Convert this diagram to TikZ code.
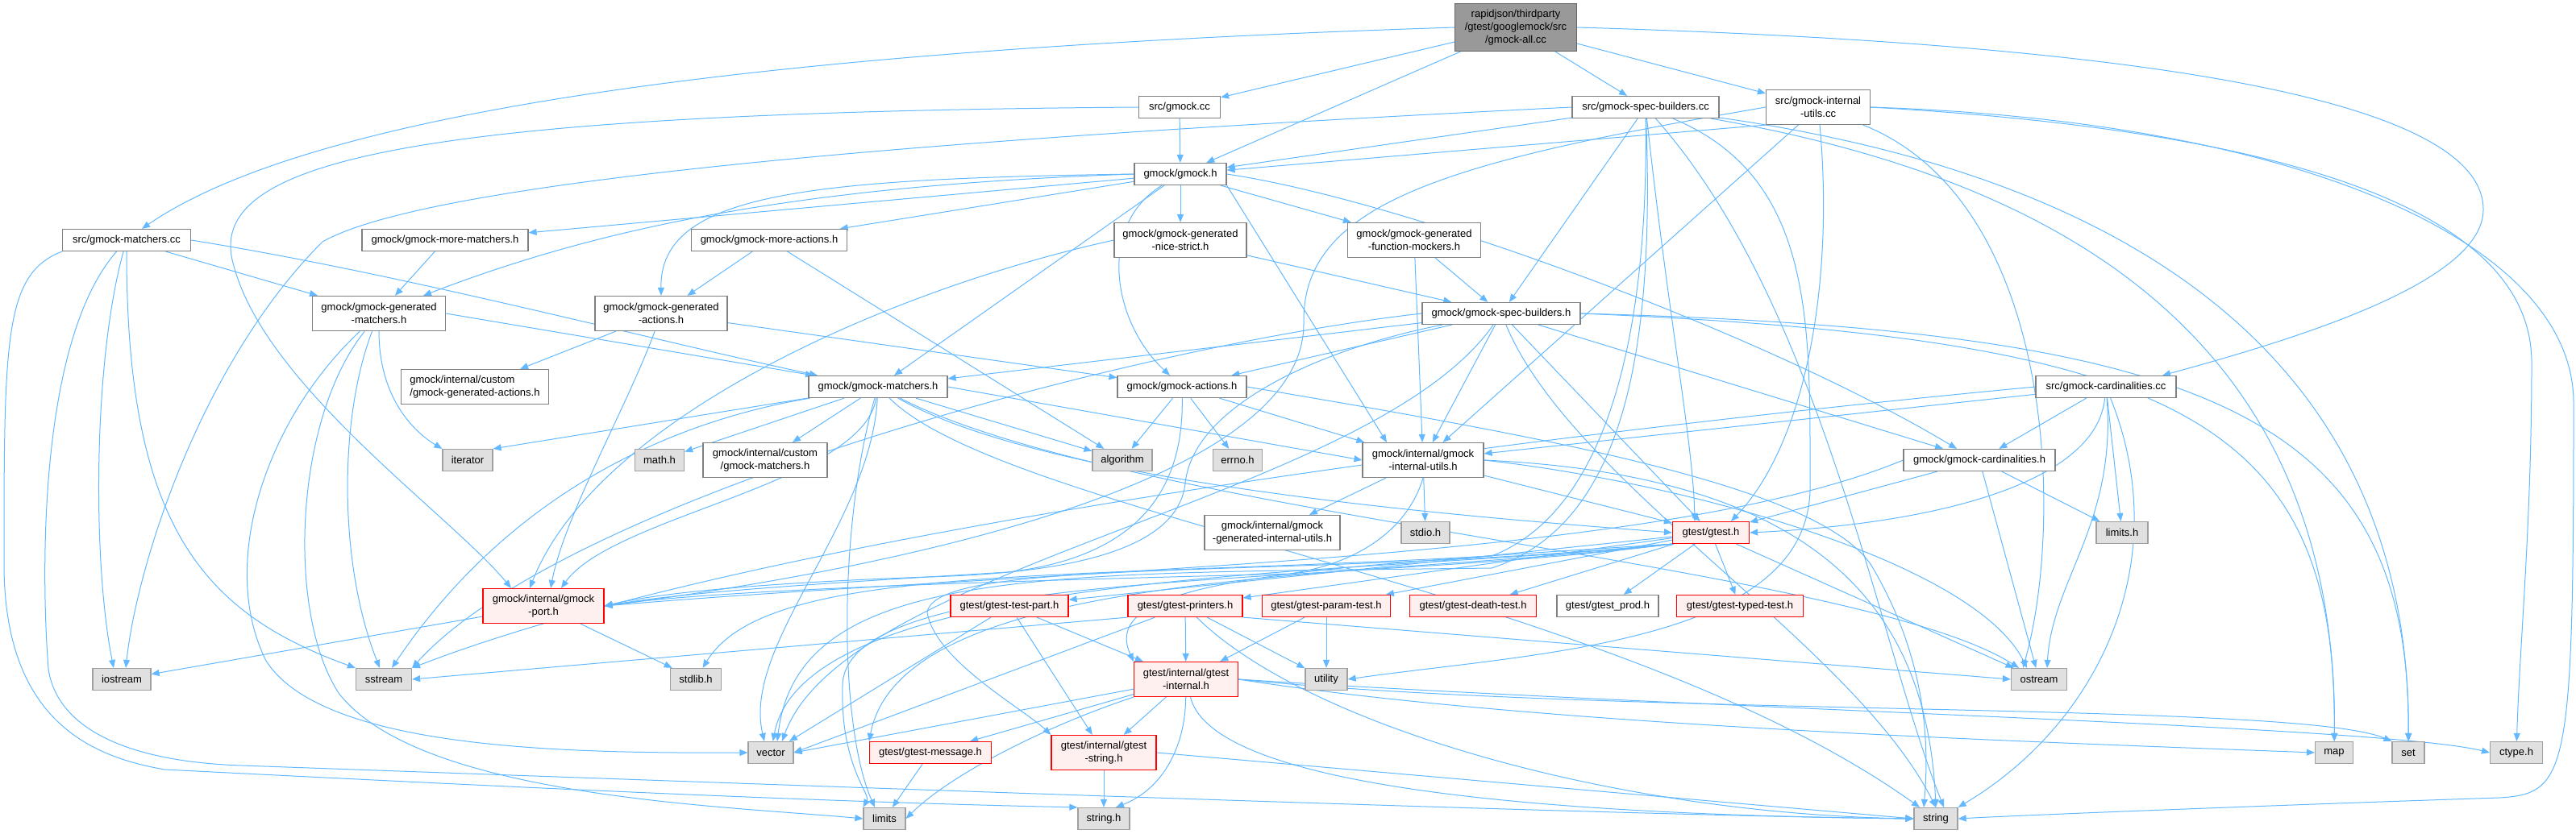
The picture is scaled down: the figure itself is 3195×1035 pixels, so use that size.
\documentclass[tikz,border=0pt]{standalone}
\usepackage{fontspec}
\setmainfont{Liberation Sans}
\usetikzlibrary{arrows.meta}
\pgfdeclarelayer{background}
\pgfsetlayers{background,main}
\definecolor{incblue}{HTML}{63B8FF}
\definecolor{boxgrey}{HTML}{808080}
\definecolor{sysfill}{HTML}{E0E0E0}
\definecolor{sysline}{HTML}{A0A0A0}
\definecolor{truncfill}{HTML}{FFF0F0}

\begin{document}
\begin{tikzpicture}[
    x=1pt, y=-1pt,
    >={Triangle[length=10pt,width=8pt]},
    font=\fontsize{13}{16}\selectfont,
    file/.style={
        rectangle, draw=boxgrey, fill=white,
        line width=1.2pt,
        inner sep=1pt,
        minimum height=27pt,
        align=center
    },
    twoline/.style={
        minimum height=43pt
    },
    rootfile/.style={
        file, draw=black!60, fill=black!40,
        minimum height=59pt
    },
    trunc/.style={
        file, draw=red, fill=truncfill
    },
    sys/.style={
        file, draw=sysline, fill=sysfill
    },
    inc/.style={
        ->, draw=incblue, line width=1pt
    }
]
\useasboundingbox (0,0) rectangle (3195,1035);

\node[rootfile, minimum width=151pt] (root) at (1880,34) {rapidjson/thirdparty\\/gtest/googlemock/src\\/gmock-all.cc};

\node[file, minimum width=159pt] (mcc) at (157,298) {src/gmock-matchers.cc};
\node[file, minimum width=101pt] (gcc) at (1463,133) {src/gmock.cc};
\node[file, minimum width=182pt] (sbcc) at (2041,133) {src/gmock-spec-builders.cc};
\node[file, twoline, minimum width=129pt] (iucc) at (2255,133) {src/gmock-internal\\-utils.cc};
\node[file, minimum width=174pt] (cacc) at (2612,480) {src/gmock-cardinalities.cc};

\node[file, minimum width=114pt] (gmock) at (1464,216) {gmock/gmock.h};
\node[file, minimum width=206pt] (mmat) at (552,298) {gmock/gmock-more-matchers.h};
\node[file, minimum width=193pt] (mact) at (954,298) {gmock/gmock-more-actions.h};
\node[file, twoline, minimum width=164pt] (nice) at (1464,298) {gmock/gmock-generated\\-nice-strict.h};
\node[file, twoline, minimum width=165pt] (fmock) at (1754,298) {gmock/gmock-generated\\-function-mockers.h};

\node[file, twoline, minimum width=165pt] (gmat) at (470,389) {gmock/gmock-generated\\-matchers.h};
\node[file, twoline, minimum width=164pt] (gact) at (820,389) {gmock/gmock-generated\\-actions.h};
\node[file, minimum width=196pt] (sbh) at (1862,389) {gmock/gmock-spec-builders.h};

\node[file, twoline, minimum width=183pt, align=left] (cgact) at (589,480) {gmock/internal/custom\\/gmock-generated-actions.h};
\node[file, minimum width=172pt] (mat) at (1089,480) {gmock/gmock-matchers.h};
\node[file, minimum width=160pt] (act) at (1466,480) {gmock/gmock-actions.h};

\node[sys, minimum width=62pt] (iter) at (580,571) {iterator};
\node[sys, minimum width=61pt] (math) at (818,571) {math.h};
\node[file, twoline, minimum width=154pt] (cmat) at (949,571) {gmock/internal/custom\\/gmock-matchers.h};
\node[sys, minimum width=74pt] (algo) at (1392,571) {algorithm};
\node[sys, minimum width=61pt] (errno) at (1535,571) {errno.h};
\node[file, twoline, minimum width=150pt] (iuh) at (1765,571) {gmock/internal/gmock\\-internal-utils.h};
\node[file, minimum width=188pt] (card) at (2455,571) {gmock/gmock-cardinalities.h};

\node[file, twoline, minimum width=168pt] (giu) at (1578,661) {gmock/internal/gmock\\-generated-internal-utils.h};
\node[sys, minimum width=60pt] (stdio) at (1768,661) {stdio.h};
\node[trunc, minimum width=95pt] (gtest) at (2122,661) {gtest/gtest.h};
\node[sys, minimum width=64pt] (limh) at (2632,661) {limits.h};

\node[trunc, twoline, minimum width=150pt] (port) at (674,752) {gmock/internal/gmock\\-port.h};
\node[trunc, minimum width=146pt] (tpart) at (1252,752) {gtest/gtest-test-part.h};
\node[trunc, minimum width=142pt] (prn) at (1470,752) {gtest/gtest-printers.h};
\node[trunc, minimum width=159pt] (param) at (1645,752) {gtest/gtest-param-test.h};
\node[trunc, minimum width=157pt] (death) at (1827,752) {gtest/gtest-death-test.h};
\node[file, minimum width=126pt] (prod) at (1994,752) {gtest/gtest\_prod.h};
\node[trunc, minimum width=157pt] (typed) at (2158,752) {gtest/gtest-typed-test.h};

\node[sys, minimum width=72pt] (iostr) at (151,843) {iostream};
\node[sys, minimum width=69pt] (sstr) at (476,843) {sstream};
\node[sys, minimum width=63pt] (stdlib) at (863,843) {stdlib.h};
\node[trunc, twoline, minimum width=129pt] (gint) at (1471,843) {gtest/internal/gtest\\-internal.h};
\node[sys, minimum width=52pt] (util) at (1645,843) {utility};
\node[sys, minimum width=69pt] (ostr) at (2529,843) {ostream};

\node[sys, minimum width=56pt] (vec) at (956,934) {vector};
\node[trunc, minimum width=151pt] (msg) at (1154,934) {gtest/gtest-message.h};
\node[trunc, twoline, minimum width=130pt] (gstr) at (1369,934) {gtest/internal/gtest\\-string.h};
\node[sys, minimum width=47pt] (map) at (2895,934) {map};
\node[sys, minimum width=40pt] (set) at (2987,934) {set};
\node[sys, minimum width=65pt] (ctype) at (3121,934) {ctype.h};

\node[sys, minimum width=52pt] (lim) at (1097,1016) {limits};
\node[sys, minimum width=64pt] (strh) at (1369,1016) {string.h};
\node[sys, minimum width=54pt] (str) at (2401,1016) {string};

\begin{pgfonlayer}{background}

\draw[inc] (root.west) .. controls (1000,60) and (400,130) .. ([xshift=19pt]mcc.north);
\draw[inc] (root) -- (gcc);
\draw[inc] (root) -- (gmock);
\draw[inc] (root) -- (sbcc);
\draw[inc] (root) -- (iucc);
\draw[inc] (root.east) .. controls (2500,50) and (3080,100) .. (3080,260) .. controls (3080,350) and (2850,420) .. ([xshift=70pt]cacc.north);

\draw[inc] (gcc) -- (gmock);
\draw[inc] (gcc.west) .. controls (500,140) and (250,200) .. (290,330) .. controls (330,480) and (560,640) .. ([xshift=-40pt]port.north);

\draw[inc] (sbcc) -- (sbh);
\draw[inc] (sbcc) -- (gmock);
\draw[inc] (sbcc.west) .. controls (1300,165) and (550,215) .. (400,300) .. controls (250,450) and (170,700) .. ([xshift=5pt]iostr.north);
\draw[inc] (sbcc) .. controls (2045,450) and (1980,640) .. (1850,690) .. controls (1300,720) and (950,700) .. (stdlib);
\draw[inc] (sbcc) .. controls (2052,420) and (2020,650) .. (1850,705) .. controls (1300,712) and (990,700) .. ([xshift=8pt]vec.north);
\draw[inc] (sbcc) .. controls (2600,230) and (2900,450) .. (map);
\draw[inc] (sbcc) .. controls (2650,220) and (2990,450) .. (set);
\draw[inc] (sbcc) .. controls (2260,380) and (2330,800) .. ([xshift=10pt]str.north);
\draw[inc] (sbcc) .. controls (2070,400) and (2100,550) .. ([xshift=-20pt]gtest.north);
\draw[inc] (sbcc) .. controls (2250,220) and (2245,400) .. (2245,600) .. controls (2250,800) and (1900,810) .. (util.east);

\draw[inc] (iucc) -- (iuh);
\draw[inc] (iucc.south west) -- (gmock);
\draw[inc] (iucc) .. controls (2275,350) and (2240,550) .. ([xshift=25pt]gtest.north);
\draw[inc] (iucc.west) .. controls (1800,200) and (1615,250) .. (1617,400) .. controls (1620,620) and (1000,720) .. (port.east);
\draw[inc] (iucc) .. controls (2550,250) and (2560,650) .. ([xshift=-20pt]ostr.north);
\draw[inc] (iucc.east) .. controls (2800,160) and (3140,250) .. (3140,450) .. controls (3140,650) and (3125,800) .. (ctype);
\draw[inc] (iucc.east) .. controls (2850,150) and (3192,300) .. (3192,500) .. controls (3192,960) and (3185,985) .. (3100,990) .. controls (2800,1000) and (2500,1012) .. (str.east);

\draw[inc] (cacc) -- (card);
\draw[inc] (cacc) -- (limh);
\draw[inc] (cacc) -- (iuh);
\draw[inc] (cacc) .. controls (2600,600) and (2400,650) .. (gtest.east);
\draw[inc] (cacc) .. controls (2625,650) and (2545,720) .. ([xshift=10pt]ostr.north);
\draw[inc] (cacc.west) .. controls (2100,520) and (1000,640) .. (sstr.north east);
\draw[inc] (cacc) .. controls (2700,700) and (2600,900) .. (str.north east);

\draw[inc] (gmock) -- (mmat);
\draw[inc] (gmock) -- (mact);
\draw[inc] (gmock.west) .. controls (1000,230) and (750,280) .. ([xshift=55pt]gmat.north);
\draw[inc] (gmock.west) .. controls (1000,222) and (818,240) .. (gact.north);
\draw[inc] (gmock) -- (nice);
\draw[inc] (gmock) -- (mat);
\draw[inc] (gmock) .. controls (1360,280) and (1380,400) .. ([xshift=-15pt]act.north);
\draw[inc] (gmock) -- (fmock);
\draw[inc] (gmock.east) .. controls (1750,250) and (2200,420) .. ([xshift=-28pt]card.north);
\draw[inc] (gmock.south east) -- ([xshift=-45pt]iuh.north);

\draw[inc] (mcc) -- (gmat);
\draw[inc] (mcc.east) .. controls (500,340) and (800,420) .. ([xshift=-75pt]mat.north);
\draw[inc] (mcc) .. controls (115,450) and (115,700) .. ([xshift=-10pt]iostr.north);
\draw[inc] (mcc) .. controls (157,650) and (250,760) .. (sstr.north west);
\draw[inc] (mcc.south west) .. controls (5,340) and (5,420) .. (5,700) .. controls (5,900) and (120,940) .. (204,955) .. controls (600,975) and (1000,995) .. (strh.north west);
\draw[inc] (mcc) .. controls (50,420) and (50,700) .. (60,830) .. controls (70,900) and (150,945) .. (300,950) .. controls (1000,975) and (2000,1012) .. (str.west);

\draw[inc] (gmat.east) -- ([xshift=-80pt]mat.north);
\draw[inc] (gmat) .. controls (470,500) and (520,540) .. (iter.north west);
\draw[inc] (gmat) .. controls (420,520) and (420,700) .. ([xshift=-5pt]sstr.north);
\draw[inc] (gmat) .. controls (330,520) and (270,700) .. (330,820) .. controls (400,930) and (700,935) .. (vec.west);
\draw[inc] (gmat) .. controls (365,520) and (355,760) .. (420,860) .. controls (520,990) and (900,1000) .. (lim.west);

\draw[inc] (mmat) -- (gmat);
\draw[inc] (mact) -- (gact);
\draw[inc] (mact) -- (algo);

\draw[inc] (nice) -- (sbh);
\draw[inc] (nice.west) .. controls (1100,360) and (740,520) .. ([xshift=-17pt]port.north);
\draw[inc] (fmock) -- (sbh);
\draw[inc] (fmock) -- (iuh);

\draw[inc] (gact) -- (act);
\draw[inc] (gact) -- (cgact);
\draw[inc] (gact) .. controls (780,500) and (700,640) .. ([xshift=9pt]port.north);

\draw[inc] (sbh) -- (mat);
\draw[inc] (sbh) -- (act);
\draw[inc] (sbh) -- ([xshift=-45pt]card.north);
\draw[inc] (sbh) -- (iuh);
\draw[inc] (sbh) -- (gtest);
\draw[inc] (sbh) .. controls (1650,430) and (1480,500) .. (1470,600) .. controls (1460,690) and (1300,712) .. (1150,716) .. controls (900,725) and (800,740) .. (port.east);
\draw[inc] (sbh.west) .. controls (1400,430) and (700,620) .. (sstr.north east);
\draw[inc] (sbh) .. controls (1950,600) and (2300,800) .. (str.north);
\draw[inc] (sbh) .. controls (1700,620) and (1050,700) .. ([xshift=14pt]vec.north);
\draw[inc] (sbh.east) .. controls (2700,420) and (2900,520) .. (map);
\draw[inc] (sbh.east) .. controls (2750,410) and (2990,520) .. (set);

\draw[inc] (act) -- (algo);
\draw[inc] (act) -- (errno);
\draw[inc] (act) -- (iuh);
\draw[inc] (act) .. controls (1468,600) and (1420,690) .. (1250,710) .. controls (1000,725) and (850,735) .. (port.east);
\draw[inc] (act.east) .. controls (1900,540) and (2250,600) .. (2320,700) .. controls (2380,800) and (2395,900) .. ([xshift=-15pt]str.north);

\draw[inc] (mat) -- (math);
\draw[inc] (mat) -- (cmat);
\draw[inc] (mat) -- (iter.north east);
\draw[inc] (mat) -- (algo);
\draw[inc] (mat.east) -- (iuh.west);
\draw[inc] (mat) .. controls (1300,600) and (1800,640) .. (gtest.west);
\draw[inc] (mat) .. controls (1400,640) and (2300,700) .. ([xshift=-25pt]ostr.north);
\draw[inc] (mat) .. controls (1070,600) and (760,640) .. ([xshift=22pt]port.north);
\draw[inc] (mat) .. controls (850,520) and (640,600) .. ([xshift=10pt]sstr.north);
\draw[inc] (mat) .. controls (1080,650) and (920,800) .. ([xshift=-8pt]vec.north);
\draw[inc] (mat) .. controls (1040,650) and (1040,900) .. ([xshift=-12pt]lim.north);
\draw[inc] (mat) .. controls (1250,640) and (2000,730) .. ([xshift=-20pt]str.north);

\draw[inc] (iuh) -- (giu);
\draw[inc] (iuh) -- (stdio);
\draw[inc] (iuh) -- (gtest);
\draw[inc] (iuh.east) .. controls (2100,600) and (2450,700) .. ([xshift=-15pt]ostr.north);
\draw[inc] (iuh.east) .. controls (2250,590) and (2390,750) .. (str.north);
\draw[inc] (iuh.south) .. controls (1745,660) and (1680,700) .. (1600,712) .. controls (1300,720) and (900,730) .. (port.east);

\draw[inc] (card) -- (limh);
\draw[inc] (card) -- (ostr);
\draw[inc] (card) -- (gtest);
\draw[inc] (card.west) .. controls (2050,700) and (1300,705) .. (port.east);

\draw[inc] (port) -- (iostr);
\draw[inc] (port) -- (stdlib);

\draw[inc] (gtest) -- (tpart);
\draw[inc] (gtest) -- (prn);
\draw[inc] (gtest) -- (param);
\draw[inc] (gtest) -- (death);
\draw[inc] (gtest) -- (prod);
\draw[inc] (gtest) -- (typed);
\draw[inc] (gtest) -- (ostr);
\draw[inc] (gtest.south west) .. controls (1700,715) and (1000,700) .. (vec);
\draw[inc] (gtest.south west) .. controls (1700,720) and (1120,700) .. (msg.north west);
\draw[inc] (gtest.south west) .. controls (1600,705) and (1360,720) .. (gint.north west);
\draw[inc] (gtest.south west) .. controls (1600,720) and (1160,690) .. (1150,760) .. controls (1160,820) and (1270,880) .. (gstr.north west);
\draw[inc] (gtest.south west) .. controls (1650,730) and (1050,700) .. (1045,850) .. controls (1042,950) and (1080,985) .. (lim.north west);

\draw[inc] (tpart) -- (vec);
\draw[inc] (tpart) -- (gint);
\draw[inc] (tpart) -- (gstr);

\draw[inc] (prn) -- (gint);
\draw[inc] (prn) -- (util);
\draw[inc] (prn.south east) -- (ostr.west);
\draw[inc] (prn.south west) -- (sstr.east);
\draw[inc] (prn) -- (vec.east);
\draw[inc] (prn) .. controls (1620,900) and (2000,1010) .. (str.west);

\draw[inc] (param) -- (util);
\draw[inc] (param) -- (gint);

\draw[inc] (gint) -- (msg);
\draw[inc] (gint) -- (gstr);
\draw[inc] (gint) -- (vec.east);
\draw[inc] (gint) .. controls (1470,930) and (1440,980) .. ([xshift=15pt]strh.north);
\draw[inc] (gint.south west) .. controls (1300,900) and (1180,960) .. (lim.east);
\draw[inc] (gint) .. controls (1500,960) and (1800,1010) .. (str.west);
\draw[inc] (gint.east) .. controls (1900,900) and (2500,920) .. (map.west);
\draw[inc] (gint.east) .. controls (2000,890) and (2850,870) .. (set.north west);
\draw[inc] (gint.east) .. controls (2100,880) and (2950,900) .. (ctype.west);

\draw[inc] (msg) -- (lim);
\draw[inc] (gstr) -- (strh);
\draw[inc] (gstr.east) -- (str.west);

\end{pgfonlayer}

\end{tikzpicture}
\end{document}
